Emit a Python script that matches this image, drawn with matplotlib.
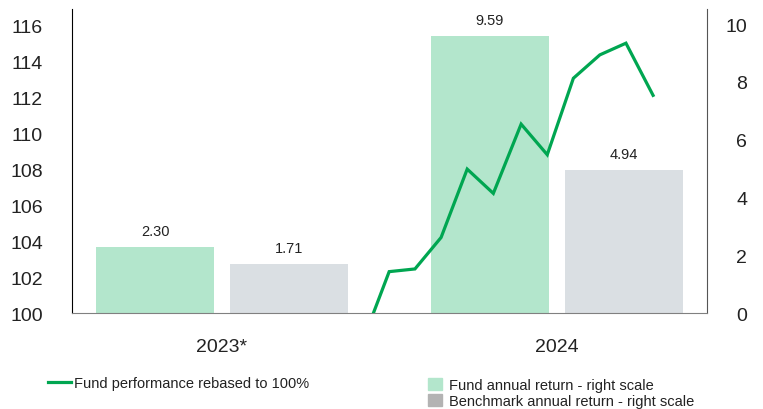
import matplotlib

matplotlib.use("Agg")

import matplotlib.pyplot as plt
from matplotlib.lines import Line2D
from matplotlib.patches import Patch

plt.rcParams["font.family"] = ["Liberation Sans", "DejaVu Sans"]

# ---------------------------------------------------------------------
# Datos
# ---------------------------------------------------------------------
categories = ["2023*", "2024"]
fund_returns = [2.30, 9.59]
bench_returns = [1.71, 4.94]

# posicion en unidades de categoria (0 = 2023*, 1 = 2024)
perf_x = [0.452, 0.499, 0.576, 0.654, 0.732, 0.810, 0.893, 0.971,
          1.049, 1.128, 1.206, 1.287]
perf_vals = [100.0, 102.3, 102.45, 104.2, 108.0, 106.65, 110.5, 108.8,
             113.05, 114.35, 115.0, 112.1]

left_ticks = [100, 102, 104, 106, 108, 110, 112, 114, 116]
right_ticks = [0, 2, 4, 6, 8, 10]

GREEN = "#00A651"
FUND_BAR = "#B3E6CC"
BENCH_BAR = "#DADFE3"
BENCH_LEGEND = "#B3B3B3"
TXT = "#222222"

fig = plt.figure(figsize=(7.63, 4.10), dpi=100)
ax = fig.add_axes([0.0944, 0.2341, 0.8322, 0.7415])
ax2 = ax.twinx()

# barras en escala derecha
xs = range(len(categories))
bw = 0.352
off = 0.2
b1 = ax2.bar([x - off for x in xs], fund_returns, width=bw, color=FUND_BAR, zorder=1)
b2 = ax2.bar([x + off for x in xs], bench_returns, width=bw, color=BENCH_BAR, zorder=1)
for bars, vals in ((b1, fund_returns), (b2, bench_returns)):
    for rect, v in zip(bars, vals):
        ax2.annotate(f"{v:.2f}", (rect.get_x() + rect.get_width() / 2, rect.get_height()),
                     xytext=(0, 6.5), textcoords="offset points",
                     ha="center", va="bottom", fontsize=10.5, color=TXT)

# linea en escala izquierda (encima de las barras)
ax.set_zorder(ax2.get_zorder() + 1)
ax.patch.set_visible(False)
ax.plot(perf_x, perf_vals, color=GREEN, linewidth=2.3, solid_joinstyle="miter", zorder=3)

ax.set_xlim(-0.448, 1.448)
ax.set_ylim(100, 116.9)
ax2.set_ylim(0, 10.52)

ax.set_yticks(left_ticks)
ax.set_yticklabels([str(t) for t in left_ticks])
ax2.set_yticks(right_ticks)
ax2.set_yticklabels([str(t) for t in right_ticks])
ax.set_xticks(list(xs))
ax.set_xticklabels(categories)

ax.tick_params(axis="y", length=0, pad=21, labelsize=14, labelcolor=TXT)
ax.tick_params(axis="x", length=0, pad=18, labelsize=14, labelcolor=TXT)
ax2.tick_params(axis="y", length=0, pad=29, labelsize=14, labelcolor=TXT)
for lbl in ax2.get_yticklabels():
    lbl.set_horizontalalignment("right")

for a in (ax, ax2):
    a.spines["top"].set_visible(False)
ax.spines["left"].set_color("#000000")
ax.spines["bottom"].set_color("#808080")
ax.spines["right"].set_visible(False)
ax2.spines["left"].set_visible(False)
ax2.spines["bottom"].set_visible(False)
ax2.spines["right"].set_color("#555555")

# leyendas
h_line = [Line2D([0], [0], color=GREEN, linewidth=2.3)]
fig.legend(h_line, ["Fund performance rebased to 100%"], loc="center left",
           bbox_to_anchor=(0.0629, 0.0634), frameon=False, fontsize=10.5,
           handlelength=1.58, handletextpad=0.2, borderpad=0, borderaxespad=0,
           labelcolor=TXT)

h_bars = [Patch(color=FUND_BAR), Patch(color=BENCH_LEGEND)]
fig.legend(h_bars, ["Fund annual return - right scale",
                    "Benchmark annual return - right scale"],
           loc="center left", bbox_to_anchor=(0.561, 0.039), frameon=False,
           fontsize=10.5, handlelength=0.96, handleheight=0.9, handletextpad=0.48,
           labelspacing=0.1, borderpad=0, borderaxespad=0, labelcolor=TXT)

fig.savefig("out.png", dpi=100)
